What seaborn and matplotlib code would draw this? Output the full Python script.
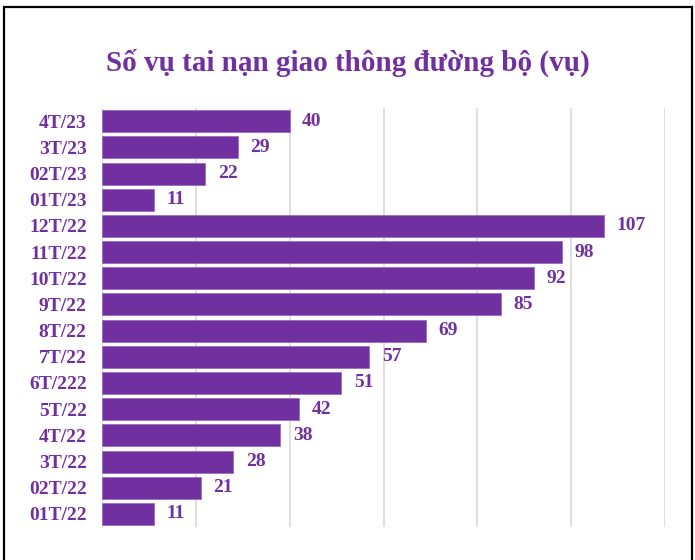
import pandas as pd
import seaborn as sns
import matplotlib.pyplot as plt
from matplotlib.patches import Rectangle

# Data (top to bottom as shown in the chart)
months = ['4T/23', '3T/23', '02T/23', '01T/23', '12T/22', '11T/22', '10T/22', '9T/22',
          '8T/22', '7T/22', '6T/222', '5T/22', '4T/22', '3T/22', '02T/22', '01T/22']
accidents = [40, 29, 22, 11, 107, 98, 92, 85, 69, 57, 51, 42, 38, 28, 21, 11]

purple = '#7030A0'

sns.set_theme(style='white')
plt.rcParams['font.family'] = ['Liberation Serif', 'DejaVu Serif']

df = pd.DataFrame({'month': months, 'value': accidents})

fig = plt.figure(figsize=(6.95, 5.6), dpi=100)
ax = fig.add_axes([0.1468, 0.059, 0.8102, 0.748])

sns.barplot(data=df, x='value', y='month', orient='h', color=purple,
            saturation=1, width=0.84, edgecolor='#9b6cc4', linewidth=0.6, ax=ax)

ax.set_xlim(0, 120)
ax.set_ylim(len(months) - 0.5, -0.5)
ax.set_xticks(range(0, 121, 20))
ax.xaxis.grid(True, color='#D9D9D9', linewidth=1.2)
ax.set_axisbelow(True)
ax.tick_params(axis='x', length=0, labelbottom=False)
ax.tick_params(axis='y', length=0, pad=11)
for lbl in ax.get_yticklabels():
    lbl.set_fontweight('bold')
    lbl.set_fontsize(14)
    lbl.set_color(purple)
ax.set_xlabel('')
ax.set_ylabel('')
for s in ax.spines.values():
    s.set_visible(False)

for container in ax.containers:
    ax.bar_label(container, padding=9, color=purple, fontweight='bold', fontsize=14)

fig.text(0.5, 0.887, 'Số vụ tai nạn giao thông đường bộ (vụ)', ha='center', va='center',
         color=purple, fontweight='bold', fontsize=21)

# outer frame
fig.patches.append(Rectangle((0.006, -0.05), 0.99, 1.037, transform=fig.transFigure,
                             fill=False, edgecolor='black', linewidth=1.6))

fig.savefig('out.png', dpi=100)
